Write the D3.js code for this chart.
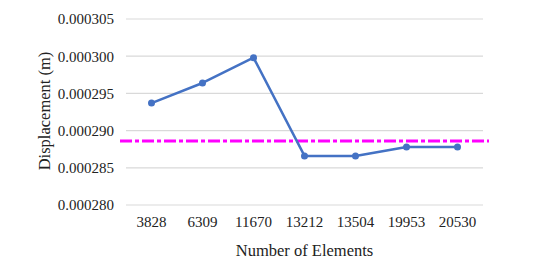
<!DOCTYPE html>
<html>
<head>
<meta charset="utf-8">
<script src="https://cdn.jsdelivr.net/npm/d3@7"></script>
</head>
<body style="margin:0; background:#fff">
<svg id="fig" width="542" height="272"></svg>
<script>
// chart data
const elements = ["3828", "6309", "11670", "13212", "13504", "19953", "20530"];
const displacement = [0.0002937, 0.0002964, 0.0002998, 0.0002866, 0.0002866, 0.0002878, 0.0002878];
const referenceValue = [0.0002886];
const yTicks = [0.00028, 0.000285, 0.00029, 0.000295, 0.0003, 0.000305];

const FONT = "Liberation Serif";
const TEXT_COLOR = "#222";

const config = {
  margin: { top: 19, left: 126 },
  width: 357,
  height: 186,
};

const svg = d3
  .select("#fig")
  .append("g")
  .attr("transform", `translate(${config.margin.left}, ${config.margin.top})`);

// category scale (x-axis)
const xScale = d3.scaleBand().domain(elements).range([0, config.width]);

// displacement scale (y-axis)
const yScale = d3
  .scaleLinear()
  .domain([0.00028, 0.000305])
  .range([config.height, 0]);

// horizontal gridlines
svg
  .selectAll(".grid")
  .data(yTicks)
  .join("line")
  .attr("class", "grid")
  .attr("x1", 0)
  .attr("x2", config.width)
  .attr("y1", (d) => yScale(d))
  .attr("y2", (d) => yScale(d))
  .attr("stroke", "#d9d9d9")
  .attr("stroke-width", 1.2);

// y axis labels
const yAxis = svg
  .append("g")
  .attr("transform", "translate(-9, 0)")
  .call(
    d3
      .axisLeft(yScale)
      .tickValues(yTicks)
      .tickSize(0)
      .tickFormat(d3.format(".6f"))
  );
yAxis.select(".domain").remove();
yAxis
  .selectAll("text")
  .style("font-family", FONT)
  .style("font-size", "15px")
  .attr("fill", TEXT_COLOR);

// x axis labels
const xAxis = svg
  .append("g")
  .attr("transform", `translate(0, ${config.height + 8})`)
  .call(d3.axisBottom(xScale).tickSize(0));
xAxis.select(".domain").remove();
xAxis
  .selectAll("text")
  .style("font-family", FONT)
  .style("font-size", "15px")
  .attr("fill", TEXT_COLOR);

// reference line (dash-dot)
svg
  .append("line")
  .attr("x1", -6)
  .attr("x2", config.width + 6)
  .attr("y1", yScale(referenceValue[0]))
  .attr("y2", yScale(referenceValue[0]))
  .attr("stroke", "#ff00ff")
  .attr("stroke-width", 3)
  .attr("stroke-dasharray", "12,3,4,3");

// displacement line
const xPos = (i) => xScale(elements[i]) + xScale.bandwidth() / 2;
svg
  .append("path")
  .datum(displacement)
  .attr("fill", "none")
  .attr("stroke", "#4472c4")
  .attr("stroke-width", 2.5)
  .attr("stroke-linejoin", "round")
  .attr(
    "d",
    d3
      .line()
      .x((d, i) => xPos(i))
      .y((d) => yScale(d))
  );

svg
  .selectAll(".point")
  .data(displacement)
  .join("circle")
  .attr("cx", (d, i) => xPos(i))
  .attr("cy", (d) => yScale(d))
  .attr("r", 3.5)
  .attr("fill", "#4472c4");

// x-axis label
svg
  .append("text")
  .attr("text-anchor", "middle")
  .attr("x", config.width / 2)
  .attr("y", config.height + 51)
  .style("font-family", FONT)
  .style("font-size", "16.5px")
  .attr("fill", TEXT_COLOR)
  .text("Number of Elements");

// y-axis label
svg
  .append("text")
  .attr("text-anchor", "middle")
  .attr("transform", "rotate(-90)")
  .attr("x", -(111 - config.margin.top))
  .attr("y", -(config.margin.left - 50))
  .style("font-family", FONT)
  .style("font-size", "16.5px")
  .attr("fill", TEXT_COLOR)
  .text("Displacement (m)");
</script>
</body>
</html>
